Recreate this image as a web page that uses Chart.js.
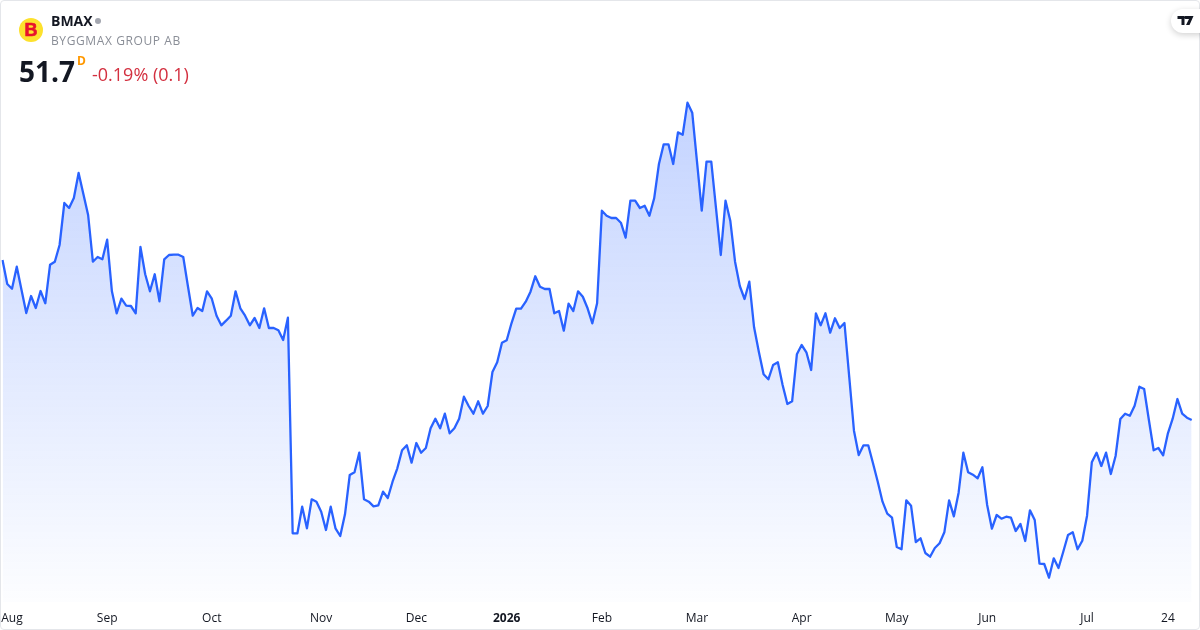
<!DOCTYPE html>
<html lang="en">
<head>
    <meta charset="UTF-8">
    <title>BMAX</title>
    <script src="https://cdn.jsdelivr.net/npm/chart.js@4"></script>
    <style>
        html, body { margin: 0; padding: 0; background: #fff; }
        body { width: 1200px; height: 630px; position: relative; overflow: hidden; font-family: "Open Sans", sans-serif; }
        #chart { position: absolute; left: 0; top: 0; }
        .frame { position: absolute; left: 0; top: 0; width: 1198px; height: 628px; border: 1px solid #e4e6ea; border-radius: 4px; pointer-events: none; }
        .logo { position: absolute; left: 19px; top: 18px; width: 24px; height: 24px; border-radius: 50%; background: #fde12d; color: #e8112d; font: 700 18px/25px "Liberation Sans", sans-serif; text-align: center; -webkit-text-stroke: 0.6px #e8112d; }
        .ticker { position: absolute; left: 51px; top: 12px; font-size: 14px; font-weight: 700; color: #131722; line-height: 18px; }
        .dot { position: absolute; left: 95px; top: 18px; width: 6px; height: 6px; border-radius: 50%; background: #a3a6af; }
        .name { position: absolute; left: 51px; top: 32px; font-size: 12px; letter-spacing: 0.6px; color: #8a8e97; line-height: 18px; }
        .price { position: absolute; left: 19px; top: 52px; font-size: 28px; font-weight: 700; color: #131722; line-height: 38px; }
        .flag { position: absolute; left: 77px; top: 54px; font-size: 12px; font-weight: 700; color: #ff9800; line-height: 14px; }
        .change { position: absolute; left: 92px; top: 63px; font-size: 18px; color: #d32f3f; line-height: 22px; }
        .tv { position: absolute; left: 1171px; top: 9px; width: 40px; height: 24px; border-radius: 12px; background: #fff; box-shadow: 0 2px 6px rgba(0,0,0,0.18); }
        .tv svg { position: absolute; left: 6px; top: 7px; }
    </style>
</head>
<body>
    <canvas id="chart" width="1200" height="630"></canvas>
    <div class="frame"></div>
    <div class="logo">B</div>
    <div class="ticker">BMAX</div>
    <div class="dot"></div>
    <div class="name">BYGGMAX GROUP AB</div>
    <div class="price">51.7</div>
    <div class="flag">D</div>
    <div class="change">-0.19% (0.1)</div>
    <div class="tv">
        <svg width="17" height="9" viewBox="0 0 16 9"><path d="M0 0h7v9H4V3H0zM9 0h7l-4 9H8.5l3-6H8a1.4 1.4 0 1 1 1-3z" fill="#131722"/></svg>
    </div>

    <script>
        const prices = [
            67.7, 65.3, 64.83, 67.03, 64.7, 62.4, 64.1, 62.9, 64.6, 63.37,
            67.23, 67.53, 69.2, 73.4, 72.9, 73.9, 76.4, 74.3, 72.2, 67.53,
            68.0, 67.77, 69.73, 64.57, 62.37, 63.83, 63.13, 63.1, 62.37, 69.0,
            66.27, 64.57, 66.27, 63.57, 67.77, 68.2, 68.23, 68.23, 68.0, 65.03,
            62.13, 62.9, 62.6, 64.57, 63.83, 62.13, 61.17, 61.63, 62.13, 64.57,
            62.87, 62.13, 61.17, 61.9, 60.9, 62.87, 60.9, 60.9, 60.67, 59.7,
            61.93, 40.37, 40.37, 43.03, 40.87, 43.77, 43.53, 42.53, 40.7, 43.03,
            40.87, 40.1, 42.27, 46.2, 46.47, 48.43, 43.77, 43.53, 43.07, 43.17,
            44.53, 43.9, 45.53, 46.87, 48.67, 49.17, 47.43, 49.4, 48.43, 48.9,
            50.87, 51.83, 50.87, 52.33, 50.37, 50.87, 51.83, 54.03, 53.1, 52.33,
            53.57, 52.33, 53.1, 56.5, 57.47, 59.43, 59.67, 61.37, 62.83, 62.83,
            63.53, 64.53, 66.07, 65.03, 64.8, 64.8, 62.37, 62.6, 60.63, 63.33,
            62.6, 64.57, 64.03, 62.87, 61.37, 63.37, 72.63, 72.13, 71.9, 71.9,
            71.43, 69.93, 73.63, 73.63, 72.9, 73.13, 72.13, 73.87, 77.3, 79.27,
            79.27, 77.3, 80.47, 80.23, 83.43, 82.43, 77.53, 72.63, 77.53, 77.53,
            72.87, 68.2, 73.63, 71.63, 67.53, 65.1, 63.8, 65.53, 60.97, 58.53,
            56.27, 55.77, 57.2, 57.47, 55.2, 53.3, 53.57, 58.27, 59.2, 58.47,
            56.7, 62.37, 61.17, 62.37, 60.43, 61.87, 60.9, 61.4, 56.03, 50.63,
            48.2, 49.17, 49.17, 47.37, 45.53, 43.53, 42.33, 41.93, 39.0, 38.77,
            43.67, 43.13, 39.5, 39.87, 38.4, 38.03, 38.9, 39.37, 40.47, 43.67,
            42.07, 44.43, 48.43, 46.47, 46.23, 45.87, 46.97, 43.2, 40.83, 42.2,
            41.83, 42.03, 41.93, 40.6, 41.3, 39.6, 42.67, 41.7, 37.33, 37.3,
            35.93, 37.87, 36.9, 38.53, 40.2, 40.47, 38.77, 39.63, 42.13, 47.47,
            48.43, 47.1, 48.43, 46.3, 48.1, 51.8, 52.33, 52.13, 53.13, 55.03,
            54.8, 51.7, 48.67, 48.9, 48.17, 50.37, 51.83, 53.8, 52.33, 51.93,
            51.7
        ];
        const tickIndexes = [2, 22, 44, 67, 87, 106, 126, 146, 168, 188, 207, 228, 245];
        const tickLabels = ['Aug', 'Sep', 'Oct', 'Nov', 'Dec', '2026', 'Feb', 'Mar', 'Apr', 'May', 'Jun', 'Jul', '24'];

        const categories = prices.map((p, i) => {
            const t = tickIndexes.indexOf(i);
            return t >= 0 ? tickLabels[t] : '';
        });

        const chart = new Chart(document.getElementById('chart'), {
            type: 'line',
            data: {
                labels: categories,
                datasets: [{
                    data: prices,
                    borderColor: '#2962ff',
                    borderWidth: 2.3,
                    borderJoinStyle: 'round',
                    pointRadius: 0,
                    tension: 0,
                    fill: 'start',
                    backgroundColor: ctx => {
                        const area = ctx.chart.chartArea;
                        if (!area) return 'rgba(41,98,255,0.1)';
                        const g = ctx.chart.ctx.createLinearGradient(0, 102, 0, area.bottom);
                        g.addColorStop(0, 'rgba(41,98,255,0.28)');
                        g.addColorStop(1, 'rgba(41,98,255,0.01)');
                        return g;
                    }
                }]
            },
            options: {
                responsive: false,
                animation: false,
                layout: { padding: { left: 2.5, right: 8.3, top: 10, bottom: 0 } },
                plugins: { legend: { display: false }, tooltip: { enabled: false } },
                scales: {
                    y: { display: false, min: 33.5, max: 92.7 },
                    x: {
                        grid: { display: false, drawTicks: false },
                        border: { display: false },
                        afterFit: scale => {
                            scale.height = 28;
                            scale.paddingLeft = 0;
                            scale.paddingRight = 0;
                        },
                        ticks: {
                            autoSkip: false,
                            maxRotation: 0,
                            padding: 9,
                            color: '#131722',
                            font: ctx => ({
                                family: '"Open Sans", sans-serif',
                                size: 12,
                                weight: ctx.tick && ctx.tick.label === '2026' ? '700' : '400'
                            }),
                            callback: function (value) {
                                return this.getLabelForValue(value) || null;
                            }
                        }
                    }
                }
            }
        });
    </script>
</body>
</html>
